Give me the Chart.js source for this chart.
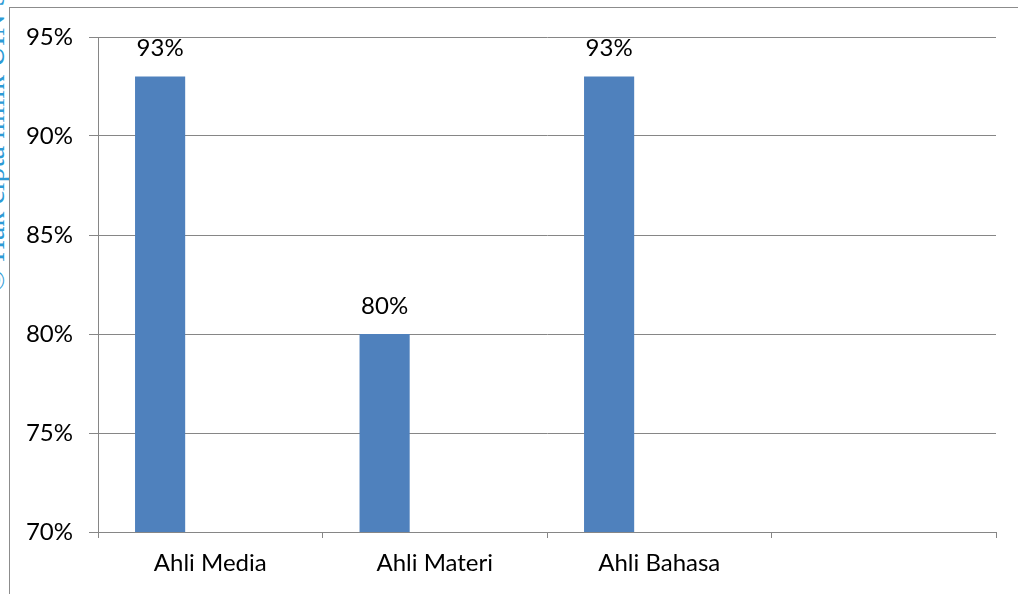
<!DOCTYPE html>
<html>
<head>
<meta charset="utf-8">
<script src="https://cdn.jsdelivr.net/npm/chart.js@4.4.1/dist/chart.umd.min.js"></script>
<style>
  html, body { margin: 0; padding: 0; background: #fff; }
  #wrap { position: relative; width: 1018px; height: 594px; overflow: hidden; }
  #frame { position: absolute; left: 9px; top: 7px; right: -2px; bottom: -2px;
           border-top: 1px solid #8c8c8c; border-left: 1px solid #8c8c8c; }
  #mark { position: absolute; left: 0; top: 0; width: 9px; height: 300px; overflow: hidden; }
  #mark span { position: absolute; left: -23px; top: 292px; transform-origin: 0 0;
               transform: rotate(-90deg); white-space: nowrap; color: #2e9bd6;
               font: 30px "Liberation Serif", serif; }
  canvas { position: absolute; left: 0; top: 0; }
</style>
</head>
<body>
<div id="wrap">
  <div id="mark"><span>© Hak cipta milik UIN Suska Riau</span></div>
  <div id="frame"></div>
  <canvas id="myChart" width="1018" height="594"></canvas>
</div>
<script>
var categories = ['Ahli Media', 'Ahli Materi', 'Ahli Bahasa', ''];
var seriesMain = [93, 80, 93, null];
var seriesEmpty2 = [null, null, null, null];
var seriesEmpty3 = [null, null, null, null];
var yMin = 70, yMax = 95, yStep = 5;

var FONT = 'Lato, "Open Sans", sans-serif';

// labels above bars, drawn by hand (no datalabels plugin offline)
var barValueLabels = {
  id: 'barValueLabels',
  afterDatasetsDraw: function(chart) {
    var ctx = chart.ctx;
    var meta = chart.getDatasetMeta(0);
    ctx.save();
    ctx.fillStyle = '#000';
    ctx.font = '24px ' + FONT;
    ctx.textAlign = 'center';
    ctx.textBaseline = 'middle';
    meta.data.forEach(function(bar, i) {
      var v = seriesMain[i];
      if (v == null) return;
      ctx.fillText(v + '%', bar.x, bar.y - 28);
    });
    ctx.restore();
  }
};

var myChartRef = document.getElementById('myChart').getContext('2d');
new Chart(myChartRef, {
  type: 'bar',
  data: {
    labels: categories,
    datasets: [
      { label: 'Series1', data: seriesMain, backgroundColor: '#4f81bd' },
      { label: 'Series2', data: seriesEmpty2, backgroundColor: '#c0504d' },
      { label: 'Series3', data: seriesEmpty3, backgroundColor: '#9bbb59' }
    ]
  },
  options: {
    responsive: false,
    animation: false,
    devicePixelRatio: 1,
    layout: { padding: { left: 0, right: 22, top: 37, bottom: 0 } },
    datasets: { bar: { categoryPercentage: 0.67, barPercentage: 1.0 } },
    plugins: { legend: { display: false }, tooltip: { enabled: false } },
    scales: {
      x: {
        offset: true,
        grid: { offset: true, drawOnChartArea: false, drawTicks: true, tickLength: 6, color: '#868686' },
        border: { color: '#868686', width: 1 },
        ticks: { color: '#000', font: { family: FONT, size: 24 }, padding: 11, maxRotation: 0 },
        afterFit: function(scale) { scale.height = 62; }
      },
      y: {
        min: yMin, max: yMax,
        ticks: {
          stepSize: yStep, color: '#000', padding: 16,
          font: { family: FONT, size: 24 },
          callback: function(v) { return v + '%'; }
        },
        grid: { color: '#868686', tickLength: 9, drawTicks: true },
        border: { color: '#868686', width: 1 },
        afterFit: function(scale) { scale.width = 98; }
      }
    }
  },
  plugins: [barValueLabels]
});
</script>
</body>
</html>
